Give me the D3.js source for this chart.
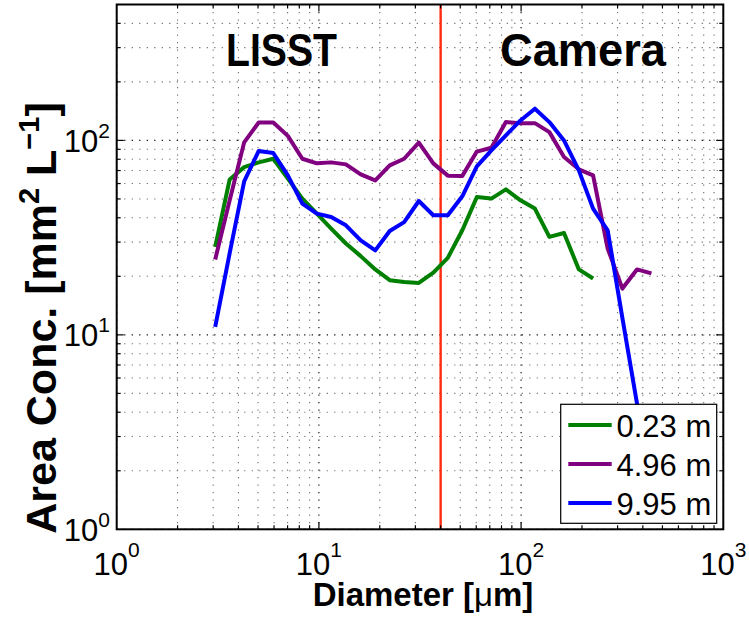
<!DOCTYPE html>
<html>
<head>
<meta charset="utf-8">
<script src="https://cdn.jsdelivr.net/npm/d3@7"></script>
<style>
  html, body { margin: 0; padding: 0; background: #fff; }
  svg { display: block; }
  text { font-family: "Liberation Sans", Arial, Helvetica, sans-serif; }
</style>
</head>
<body>
<svg id="chart" width="749" height="618"></svg>
<script>
// Particle diameters (µm) of the size bins
const diameters = [3.07, 3.62, 4.27, 5.04, 5.95, 7.02, 8.28, 9.77, 11.5, 13.6, 16.1,
  19.0, 22.4, 26.4, 31.2, 36.8, 43.4, 51.2, 60.4, 71.3, 84.1, 99.3, 117, 138,
  163, 193, 227, 268, 317, 374, 441];

// Area concentration (mm^2 L^-1) at each depth
const depth023 = [28.3, 63.0, 72.9, 77.1, 80.5, 63.6, 50.2, 42.0, 35.2, 29.5, 25.4,
  21.7, 19.1, 18.7, 18.5, 20.9, 24.9, 34.5, 51.1, 50.2, 56.0, 49.2, 44.6, 31.9,
  33.4, 21.7, 19.5];
const depth496 = [24.4, 49.2, 97.7, 123.7, 123.7, 105.5, 80.5, 76.2, 77.1, 75.3, 66.9,
  62.3, 74.4, 80.5, 97.4, 76.2, 65.9, 65.7, 87.6, 91.7, 124.2, 122.7, 122.7, 110.3,
  82.1, 71.0, 66.1, 27.8, 17.3, 21.7, 20.7];
const depth995 = [11.0, 26.3, 61.6, 88.3, 86.1, 66.1, 47.3, 42.0, 40.4, 36.6, 30.6,
  27.2, 34.2, 38.0, 48.8, 41.2, 41.2, 51.6, 73.5, 88.8, 106.1, 126.7, 145.6, 124.2,
  100, 70.1, 44.6, 34.5, 12.2, 4.46, 1.61];

const seriesNames = ["0.23 m", "4.96 m", "9.95 m"];
const seriesColors = ["#008000", "#800080", "#0000ff"];

// Instrument boundary and region labels
const boundaryDiameter = 40;
const regionLabels = ["LISST", "Camera"];

const xDomain = [1, 1000];
const yDomain = [1, 500];
const xMajorTicks = [1, 10, 100, 1000];
const yMajorTicks = [1, 10, 100];

(function draw() {
const svg = d3.select("#chart");
const pL = 116.7, pR = 723.3, pT = 4.5, pB = 529.3;

const x = d3.scaleLog().domain(xDomain).range([pL, pR]);
const y = d3.scaleLog().domain(yDomain).range([pB, pT]);

// minor tick values: 2..9 per decade
function minorTicks(domain) {
  const out = [];
  for (let e = Math.floor(Math.log10(domain[0])); e < Math.ceil(Math.log10(domain[1])); e++) {
    for (let m = 2; m <= 9; m++) {
      const v = m * Math.pow(10, e);
      if (v > domain[0] && v < domain[1]) out.push(v);
    }
  }
  return out;
}
const xMinor = minorTicks(xDomain);
const yMinor = minorTicks(yDomain);

svg.append("defs").append("clipPath").attr("id", "plotClip")
  .append("rect").attr("x", pL).attr("y", pT)
  .attr("width", pR - pL).attr("height", pB - pT);

// dotted grid at major and minor ticks
const grid = svg.append("g");
function vGrid(ticks, color) {
  grid.selectAll(null).data(ticks).join("line")
    .attr("x1", d => x(d)).attr("x2", d => x(d)).attr("y1", pT).attr("y2", pB)
    .attr("stroke", color).attr("stroke-width", 1.1).attr("stroke-dasharray", "1.2,6.3");
}
function hGrid(ticks, color) {
  grid.selectAll(null).data(ticks).join("line")
    .attr("y1", d => y(d)).attr("y2", d => y(d)).attr("x1", pL).attr("x2", pR)
    .attr("stroke", color).attr("stroke-width", 1.1).attr("stroke-dasharray", "1.2,6.3");
}
vGrid(xMinor, "#6e6e6e");
hGrid(yMinor, "#6e6e6e");
vGrid(xMajorTicks, "#000");
hGrid(yMajorTicks, "#000");

// region labels
svg.append("text").attr("x", 226).attr("y", 66)
  .attr("font-family", "Lato, 'Open Sans', sans-serif").attr("font-weight", 900)
  .attr("font-size", 46).attr("textLength", 111).attr("lengthAdjust", "spacingAndGlyphs")
  .text(regionLabels[0]);
svg.append("text").attr("x", 500).attr("y", 66)
  .attr("font-family", "Lato, 'Open Sans', sans-serif").attr("font-weight", 900)
  .attr("font-size", 46).attr("textLength", 166).attr("lengthAdjust", "spacingAndGlyphs")
  .text(regionLabels[1]);

// boundary line
svg.append("line")
  .attr("x1", x(boundaryDiameter)).attr("x2", x(boundaryDiameter))
  .attr("y1", pT).attr("y2", pB)
  .attr("stroke", "#ff2a10").attr("stroke-width", 2.4);

// size distributions
const seriesData = [depth023, depth496, depth995];
const line = d3.line().x(d => x(d[0])).y(d => y(d[1]));
const lines = svg.append("g").attr("clip-path", "url(#plotClip)");
seriesData.forEach((vals, i) => {
  const pts = vals.map((v, j) => [diameters[j], v]);
  lines.append("path").datum(pts)
    .attr("d", line).attr("fill", "none")
    .attr("stroke", seriesColors[i]).attr("stroke-width", 4)
    .attr("stroke-linejoin", "round");
});

// axes box with inward ticks on all sides
const axes = svg.append("g").attr("stroke", "#000").attr("stroke-width", 1.2);
const majLen = 7, minLen = 4;
[[xMajorTicks, majLen], [xMinor, minLen]].forEach(([ticks, len]) => {
  const inner = ticks.filter(d => d > xDomain[0] && d < xDomain[1]);
  axes.selectAll(null).data(inner).join("line")
    .attr("x1", d => x(d)).attr("x2", d => x(d)).attr("y1", pB).attr("y2", pB - len);
  axes.selectAll(null).data(inner).join("line")
    .attr("x1", d => x(d)).attr("x2", d => x(d)).attr("y1", pT).attr("y2", pT + len);
});
[[yMajorTicks, majLen], [yMinor, minLen]].forEach(([ticks, len]) => {
  const inner = ticks.filter(d => d > yDomain[0] && d < yDomain[1]);
  axes.selectAll(null).data(inner).join("line")
    .attr("y1", d => y(d)).attr("y2", d => y(d)).attr("x1", pL).attr("x2", pL + len);
  axes.selectAll(null).data(inner).join("line")
    .attr("y1", d => y(d)).attr("y2", d => y(d)).attr("x1", pR).attr("x2", pR - len);
});
svg.append("rect").attr("x", pL).attr("y", pT)
  .attr("width", pR - pL).attr("height", pB - pT)
  .attr("fill", "none").attr("stroke", "#000").attr("stroke-width", 2);

// tick labels (powers of ten)
const tl = svg.append("g");
xMajorTicks.forEach(v => {
  const t = tl.append("text").attr("x", x(v)).attr("y", 575)
    .attr("text-anchor", "middle").attr("font-size", 31);
  t.append("tspan").text("10");
  t.append("tspan").attr("font-size", 21).attr("dy", -18).text(Math.round(Math.log10(v)));
});
yMajorTicks.forEach(v => {
  const t = tl.append("text").attr("x", 110).attr("y", y(v) + 11.5)
    .attr("text-anchor", "end").attr("font-size", 31);
  t.append("tspan").text("10");
  t.append("tspan").attr("font-size", 21).attr("dy", -14).text(Math.round(Math.log10(v)));
});

// axis titles
const xt = svg.append("text").attr("x", 423).attr("y", 606)
  .attr("text-anchor", "middle").attr("font-size", 33).attr("font-weight", "bold");
xt.append("tspan").text("Diameter [");
xt.append("tspan").attr("font-weight", "normal").text("\u03bc");
xt.append("tspan").text("m]");

const yt = svg.append("text").attr("transform", "translate(56,318) rotate(-90)")
  .attr("text-anchor", "middle").attr("font-size", 43).attr("font-weight", "bold");
yt.append("tspan").text("Area Conc. [mm");
yt.append("tspan").attr("font-size", 29).attr("dy", -17).text("2");
yt.append("tspan").attr("dy", 17).text(" L");
yt.append("tspan").attr("font-size", 29).attr("dy", -17).text("\u22121");
yt.append("tspan").attr("dy", 17).text("]");

// legend
const lg = svg.append("g");
lg.append("rect").attr("x", 560.7).attr("y", 404.3).attr("width", 156).attr("height", 119)
  .attr("fill", "#fff").attr("stroke", "#000").attr("stroke-width", 1.2);
seriesNames.forEach((name, i) => {
  const cy = 425 + i * 39;
  lg.append("line").attr("x1", 568.3).attr("x2", 611.7).attr("y1", cy).attr("y2", cy)
    .attr("stroke", seriesColors[i]).attr("stroke-width", 4);
  lg.append("text").attr("x", 616.5).attr("y", cy + 11.5).attr("font-size", 31).text(name);
});
})();
</script>
</body>
</html>
